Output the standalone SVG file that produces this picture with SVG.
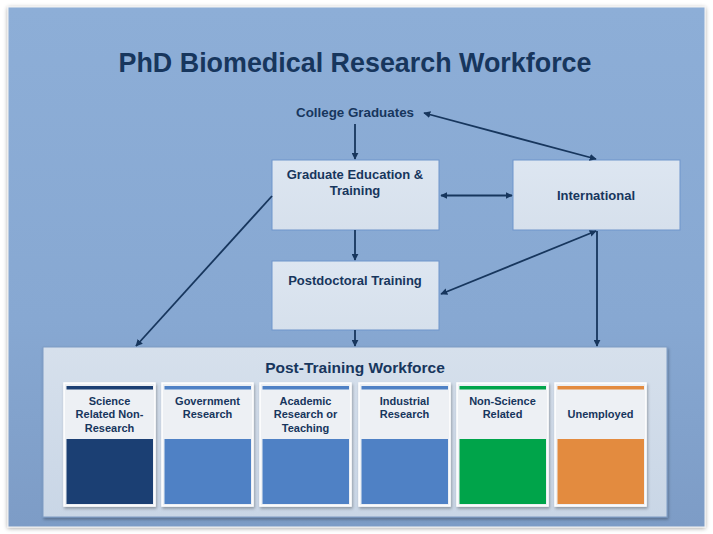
<svg xmlns="http://www.w3.org/2000/svg" width="713" height="534" viewBox="0 0 713 534">
<defs>
<linearGradient id="bg" x1="0" y1="0" x2="0" y2="1">
<stop offset="0" stop-color="#8DAED7"/>
<stop offset="0.6" stop-color="#87A8D2"/>
<stop offset="1" stop-color="#7D9CC6"/>
</linearGradient>
<linearGradient id="cont" x1="0" y1="0" x2="0" y2="1">
<stop offset="0" stop-color="#D6E0EC"/>
<stop offset="1" stop-color="#C9D6E6"/>
</linearGradient>
<linearGradient id="box" x1="0" y1="0" x2="0" y2="1">
<stop offset="0" stop-color="#DDE6F1"/>
<stop offset="1" stop-color="#D6E0EC"/>
</linearGradient>
<filter id="sh" x="-10%" y="-10%" width="120%" height="130%">
<feDropShadow dx="1" dy="2" stdDeviation="1.5" flood-color="#000" flood-opacity="0.3"/>
</filter>
<filter id="sh2" x="-5%" y="-5%" width="110%" height="110%">
<feDropShadow dx="0" dy="1" stdDeviation="2" flood-color="#000" flood-opacity="0.35"/>
</filter>
<marker id="ah" viewBox="0 0 10 10" refX="9" refY="5" markerWidth="7" markerHeight="7" orient="auto-start-reverse" markerUnits="userSpaceOnUse">
<path d="M0,0 L10,5 L0,10 z" fill="#17365D"/>
</marker>
<style>
.t{font-family:"Liberation Sans",Arial,sans-serif;font-weight:bold;fill:#17365D;text-anchor:middle}
.box{fill:url(#box);stroke:#6F95CB;stroke-width:1}
.card{fill:#EDF0F4;stroke:#FFFFFF;stroke-width:1.5;filter:url(#sh)}
.c{stroke:#17365D;stroke-width:1.8;fill:none;marker-end:url(#ah)}
.cb{stroke:#17365D;stroke-width:1.8;fill:none;marker-end:url(#ah);marker-start:url(#ah)}
.ct{font-size:11px}
</style>
</defs>
<rect width="713" height="534" fill="#FFFFFF"/>
<rect x="8" y="7" width="697" height="520" fill="url(#bg)" stroke="#F2F2F2" stroke-width="1" filter="url(#sh2)"/>
<text class="t" x="355" y="72" font-size="28" textLength="473" lengthAdjust="spacingAndGlyphs">PhD Biomedical Research Workforce</text>

<g id="college-graduates">
<text class="t" x="355" y="117" font-size="13" textLength="118" lengthAdjust="spacingAndGlyphs">College Graduates</text>
</g>
<g id="graduate-education">
<rect class="box" x="272" y="160" width="167" height="70"/>
<text class="t" x="355" y="179" font-size="13">Graduate Education &amp;</text>
<text class="t" x="355" y="195" font-size="13">Training</text>
</g>
<g id="international">
<rect class="box" x="513" y="160" width="167" height="70"/>
<text class="t" x="596" y="200" font-size="13">International</text>
</g>
<g id="postdoctoral-training">
<rect class="box" x="272" y="261" width="167" height="69"/>
<text class="t" x="355" y="285" font-size="13">Postdoctoral Training</text>
</g>

<g id="post-training-workforce">
<rect x="43" y="347" width="624" height="170" fill="url(#cont)" stroke="#7E9CC4" stroke-width="1" filter="url(#sh)"/>
<text class="t" x="355" y="373" font-size="15.5">Post-Training Workforce</text>
</g>

<g id="card-science-related">
<rect class="card" x="64" y="383" width="91" height="123"/>
<rect x="66.5" y="386" width="86.5" height="3.5" fill="#1B3F73"/>
<text class="t ct" x="109.5" y="405">Science</text>
<text class="t ct" x="109.5" y="418">Related Non-</text>
<text class="t ct" x="109.5" y="432">Research</text>
<rect x="66.5" y="439" width="86.5" height="65" fill="#1B3F73"/>
</g>
<g id="card-government">
<rect class="card" x="162" y="383" width="91" height="123"/>
<rect x="164.5" y="386" width="86.5" height="3.5" fill="#4F81C5"/>
<text class="t ct" x="207.5" y="405">Government</text>
<text class="t ct" x="207.5" y="418">Research</text>
<rect x="164.5" y="439" width="86.5" height="65" fill="#4F81C5"/>
</g>
<g id="card-academic">
<rect class="card" x="260" y="383" width="91" height="123"/>
<rect x="262.5" y="386" width="86.5" height="3.5" fill="#4F81C5"/>
<text class="t ct" x="305.5" y="405">Academic</text>
<text class="t ct" x="305.5" y="418">Research or</text>
<text class="t ct" x="305.5" y="432">Teaching</text>
<rect x="262.5" y="439" width="86.5" height="65" fill="#4F81C5"/>
</g>
<g id="card-industrial">
<rect class="card" x="359" y="383" width="91" height="123"/>
<rect x="361.5" y="386" width="86.5" height="3.5" fill="#4F81C5"/>
<text class="t ct" x="404.5" y="405">Industrial</text>
<text class="t ct" x="404.5" y="418">Research</text>
<rect x="361.5" y="439" width="86.5" height="65" fill="#4F81C5"/>
</g>
<g id="card-non-science">
<rect class="card" x="457" y="383" width="91" height="123"/>
<rect x="459.5" y="386" width="86.5" height="3.5" fill="#00A44A"/>
<text class="t ct" x="502.5" y="405">Non-Science</text>
<text class="t ct" x="502.5" y="418">Related</text>
<rect x="459.5" y="439" width="86.5" height="65" fill="#00A44A"/>
</g>
<g id="card-unemployed">
<rect class="card" x="555" y="383" width="91" height="123"/>
<rect x="557.5" y="386" width="86.5" height="3.5" fill="#E38B3F"/>
<text class="t ct" x="600.5" y="418">Unemployed</text>
<rect x="557.5" y="439" width="86.5" height="65" fill="#E38B3F"/>
</g>

<g id="connectors">
<line class="c" x1="355" y1="124" x2="355" y2="159"/>
<line class="cb" x1="596" y1="159" x2="424" y2="113"/>
<line class="cb" x1="441" y1="195.5" x2="512" y2="195.5"/>
<line class="c" x1="355" y1="230" x2="355" y2="260"/>
<line class="cb" x1="596" y1="231" x2="441" y2="294"/>
<line class="c" x1="597" y1="231" x2="597" y2="346"/>
<line class="c" x1="272" y1="196" x2="136" y2="346"/>
<line class="c" x1="355" y1="330" x2="355" y2="346"/>
</g>
</svg>
